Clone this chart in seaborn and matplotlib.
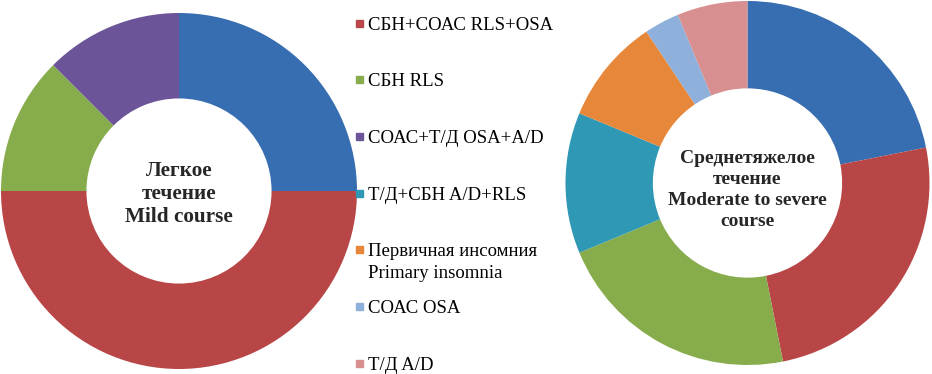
import matplotlib
matplotlib.use('Agg')
import matplotlib.pyplot as plt
import seaborn as sns

# data: counts per group
mild_labels = ["Норма", "СБН+СОАС RLS+OSA", "СБН RLS", "СОАС+Т/Д OSA+A/D"]
mild_counts = [2, 4, 1, 1]

severe_labels = ["Норма", "СБН+СОАС RLS+OSA", "СБН RLS", "Т/Д+СБН A/D+RLS",
                 "Первичная инсомния\nPrimary insomnia", "СОАС OSA", "Т/Д A/D"]
severe_counts = [7, 8, 7, 4, 3, 1, 2]

legend_labels = ["СБН+СОАС RLS+OSA", "СБН RLS", "СОАС+Т/Д OSA+A/D", "Т/Д+СБН A/D+RLS",
                 "Первичная инсомния\nPrimary insomnia", "СОАС OSA", "Т/Д A/D"]

colors = {
    "Норма": "#376db1",
    "СБН+СОАС RLS+OSA": "#b94646",
    "СБН RLS": "#87ac4c",
    "СОАС+Т/Д OSA+A/D": "#6c5499",
    "Т/Д+СБН A/D+RLS": "#2f98b4",
    "Первичная инсомния\nPrimary insomnia": "#e7873a",
    "СОАС OSA": "#8fb0db",
    "Т/Д A/D": "#d78f8f",
}

sns.set_theme(style="white")
plt.rcParams['font.family'] = ['Liberation Serif', 'DejaVu Serif']

W, H = 932, 374
fig = plt.figure(figsize=(W / 100, H / 100), dpi=100)
ax1 = fig.add_axes([1 / W, 5 / H, 356 / W, 356 / H])
ax2 = fig.add_axes([565.5 / W, 9 / H, 364 / W, 364 / H])


def donut(ax, labels, counts, inner):
    ax.pie(counts, colors=[colors[l] for l in labels], startangle=90,
           counterclock=False, radius=1,
           wedgeprops=dict(width=1 - inner, linewidth=0))
    ax.set_xlim(-1, 1)
    ax.set_ylim(-1, 1)
    ax.set_aspect('equal')
    ax.axis('off')


donut(ax1, mild_labels, mild_counts, 0.52)
donut(ax2, severe_labels, severe_counts, 0.52)

ax1.text(0, -0.017, "Легкое\nтечение\nMild course", ha='center', va='center',
         fontsize=15.3, fontweight='bold', linespacing=1.22)
ax2.text(0, -0.038, "Среднетяжелое\nтечение\nModerate to severe\ncourse", ha='center',
         va='center', fontsize=14, fontweight='bold', linespacing=1.3)

# legend drawn by hand: Excel spaces entries by their first line
top, step, line_h = 23, 56.7, 22
for i, lab in enumerate(legend_labels):
    y = top + i * step
    fig.patches.append(plt.Rectangle((356 / W, 1 - (y + 3.5) / H), 7 / W, 7 / H,
                                     color=colors[lab], transform=fig.transFigure))
    for j, part in enumerate(lab.split("\n")):
        fig.text(368 / W, 1 - (y + j * line_h) / H, part, fontsize=13.5,
                 va='center_baseline', ha='left', color='black')

fig.savefig("out.png", dpi=100)
